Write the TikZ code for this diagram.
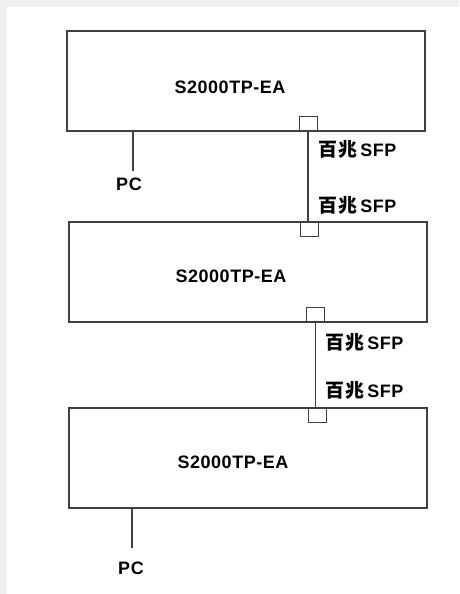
\documentclass[tikz,border=0pt]{standalone}
\usepackage{fontspec}
\setmainfont{Liberation Sans}
\newfontfamily\swfont[LetterSpace=3]{Liberation Sans}
\newfontfamily\cjk[LetterSpace=6]{Noto Sans CJK SC}
\usepackage{tikz}
\usetikzlibrary{positioning}
\definecolor{swline}{RGB}{64,64,64}
\definecolor{swgray}{RGB}{239,239,239}
\tikzstyle{switch} = [rectangle, draw=swline, line width=1.5pt, minimum width=358pt, minimum height=100pt, inner sep=0pt]
\tikzstyle{swname} = [inner sep=0pt, font=\swfont\fontsize{18}{20}\selectfont\bfseries]
\tikzstyle{port} = [rectangle, draw=swline, line width=1pt, minimum width=18pt, minimum height=15pt, inner sep=0pt]
\tikzstyle{link} = [draw=swline, line width=1.2pt]
\tikzstyle{sfp} = [anchor=west, inner sep=0pt, font=\swfont\fontsize{18}{20}\selectfont\bfseries]
\tikzstyle{pc} = [inner sep=0pt, font=\swfont\fontsize{18}{20}\selectfont\bfseries]

\begin{document}
\begin{tikzpicture}[x=1pt, y=-1pt]
% frame
\fill[swgray] (0,0) rectangle (459,594);
\fill[white] (7,7) rectangle (459,594);
\useasboundingbox (0,0) rectangle (459,594);

% switches
\node (sw1) [switch] at (246,81) {};
\node (sw2) [switch] at (248,272) {};
\node (sw3) [switch] at (248,458) {};
\node (name1) [swname] at (230,87) {S2000TP-EA};
\node (name2) [swname] at (231,276) {S2000TP-EA};
\node (name3) [swname] at (233,462) {S2000TP-EA};

% SFP ports
\node (p1) [port] at (308,124) {};
\node (p2) [port] at (309.5,229) {};
\node (p3) [port] at (315.5,314.5) {};
\node (p4) [port] at (317.5,415) {};

\draw[link] (p1.south) -- (p1.south |- p2.north);
\draw[link] (p3.south) -- (p3.south |- p4.north);

\node (l1) [sfp] at (318,149) {{\cjk\bfseries\fontsize{19}{20}\selectfont 百兆}\hspace{3pt}SFP};
\node (l2) [sfp] at (318,205) {{\cjk\bfseries\fontsize{19}{20}\selectfont 百兆}\hspace{3pt}SFP};
\node (l3) [sfp] at (325,342) {{\cjk\bfseries\fontsize{19}{20}\selectfont 百兆}\hspace{3pt}SFP};
\node (l4) [sfp] at (325,390) {{\cjk\bfseries\fontsize{19}{20}\selectfont 百兆}\hspace{3pt}SFP};

% PCs
\node (pc1) [pc] at (129,184) {PC};
\node (pc2) [pc] at (131,568) {PC};
\coordinate (t1) at (133,171);
\coordinate (t2) at (132,548);
\draw[link] (sw1.south -| t1) -- (t1);
\draw[link] (sw3.south -| t2) -- (t2);
\end{tikzpicture}
\end{document}
